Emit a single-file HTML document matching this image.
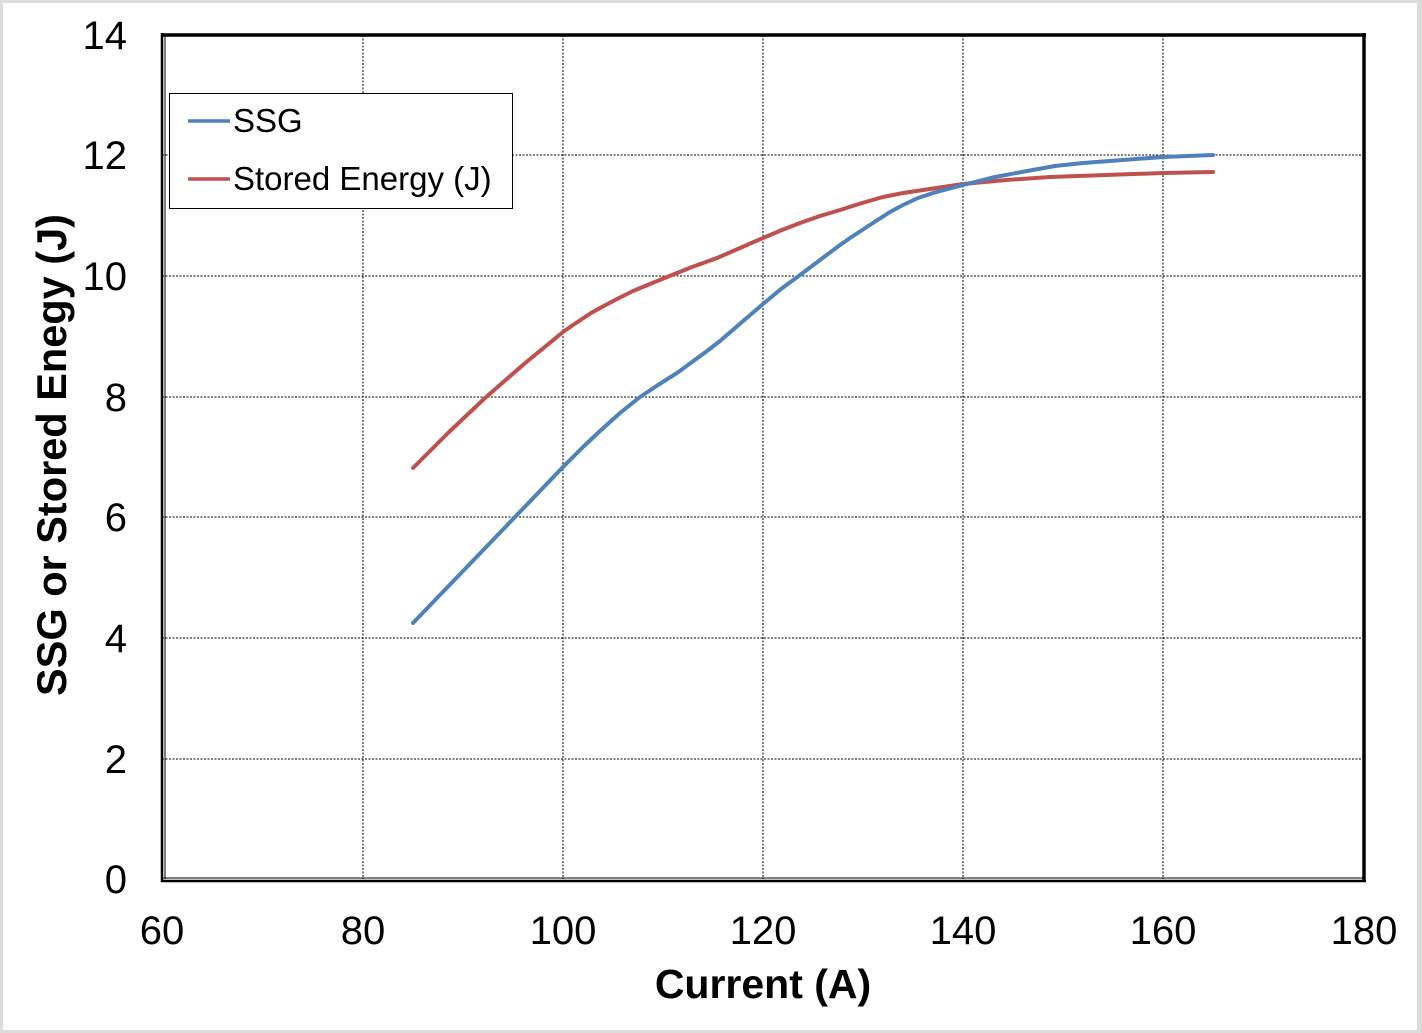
<!DOCTYPE html>
<html><head><meta charset="utf-8"><style>
html,body{margin:0;padding:0;background:#fff}
svg{display:block}
text{font-family:"Liberation Sans",Arial,sans-serif;fill:#000}
</style></head><body>
<svg width="1422" height="1033" viewBox="0 0 1422 1033" xmlns="http://www.w3.org/2000/svg">
<rect x="0" y="0" width="1422" height="1033" fill="#dcdcdc"/>
<rect x="3" y="3" width="1414" height="1027" fill="#fff"/>
<!-- gridlines -->
<g stroke="#000" stroke-width="1" stroke-dasharray="2,1.5">
<line x1="363" y1="35" x2="363" y2="879"/>
<line x1="563" y1="35" x2="563" y2="879"/>
<line x1="763" y1="35" x2="763" y2="879"/>
<line x1="963" y1="35" x2="963" y2="879"/>
<line x1="1163" y1="35" x2="1163" y2="879"/>
<line x1="162" y1="155" x2="1364" y2="155"/>
<line x1="162" y1="276" x2="1364" y2="276"/>
<line x1="162" y1="397" x2="1364" y2="397"/>
<line x1="162" y1="517" x2="1364" y2="517"/>
<line x1="162" y1="638" x2="1364" y2="638"/>
<line x1="162" y1="759" x2="1364" y2="759"/>
</g>
<!-- frame -->
<line x1="162" y1="33" x2="162" y2="882" stroke="#000" stroke-width="2.5"/>
<line x1="165" y1="35" x2="165" y2="879" stroke="#000" stroke-width="1"/>
<line x1="161" y1="881" x2="1366" y2="881" stroke="#000" stroke-width="2.5"/>
<line x1="162" y1="878" x2="1364" y2="878" stroke="#000" stroke-width="1"/>
<line x1="161" y1="35" x2="1366" y2="35" stroke="#000" stroke-width="3.5"/>
<line x1="1364" y1="33" x2="1364" y2="882" stroke="#000" stroke-width="3.5"/>
<!-- series -->
<polyline fill="none" stroke="#C0504D" stroke-width="4" stroke-linejoin="round" stroke-linecap="round"
points="413,468 449,432 485,398 524,364 563,332 573,325 582,319 591,313 600,308 617,299 633,291 650,284 667,277 692,267 717,258 740,248 763,238 782,230 800,223 820,216 840,210 862,203 883,197 903,193 923,190 943,187 963,184 1006,180 1050,177 1106,175 1163,173 1213,172"/>
<polyline fill="none" stroke="#4F81BD" stroke-width="4" stroke-linejoin="round" stroke-linecap="round"
points="413,623 464,570 515,517 563,467 582,448 600,431 620,413 640,397 658,385 677,373 692,362 707,351 720,341 742,322 763,304 781,289 800,275 820,260 840,245 850,238 876,221 890,212 903,205 918,198 933,193 948,189 963,185 995,177 1027,171 1055,166 1083,163 1123,160 1163,157 1213,155"/>
<!-- legend -->
<rect x="169.5" y="93.5" width="343" height="115" fill="#fff" stroke="#000" stroke-width="1"/>
<line x1="188" y1="121" x2="230" y2="121" stroke="#4F81BD" stroke-width="3.5"/>
<line x1="188" y1="179" x2="230" y2="179" stroke="#C0504D" stroke-width="3.5"/>
<text x="233" y="132" font-size="33">SSG</text>
<text x="233" y="190" font-size="33">Stored Energy (J)</text>
<!-- y tick labels -->
<g font-size="40" text-anchor="end">
<text x="127" y="49">14</text>
<text x="127" y="169">12</text>
<text x="127" y="290">10</text>
<text x="127" y="411">8</text>
<text x="127" y="531">6</text>
<text x="127" y="652">4</text>
<text x="127" y="773">2</text>
<text x="127" y="893">0</text>
</g>
<!-- x tick labels -->
<g font-size="40" text-anchor="middle">
<text x="162" y="944">60</text>
<text x="363" y="944">80</text>
<text x="563" y="944">100</text>
<text x="763" y="944">120</text>
<text x="963" y="944">140</text>
<text x="1163" y="944">160</text>
<text x="1364" y="944">180</text>
</g>
<text x="763" y="998" font-size="41" font-weight="bold" text-anchor="middle">Current (A)</text>
<text transform="translate(66,455) rotate(-90)" x="0" y="0" font-size="41.5" font-weight="bold" text-anchor="middle">SSG or Stored Enegy (J)</text>
</svg>
</body></html>
